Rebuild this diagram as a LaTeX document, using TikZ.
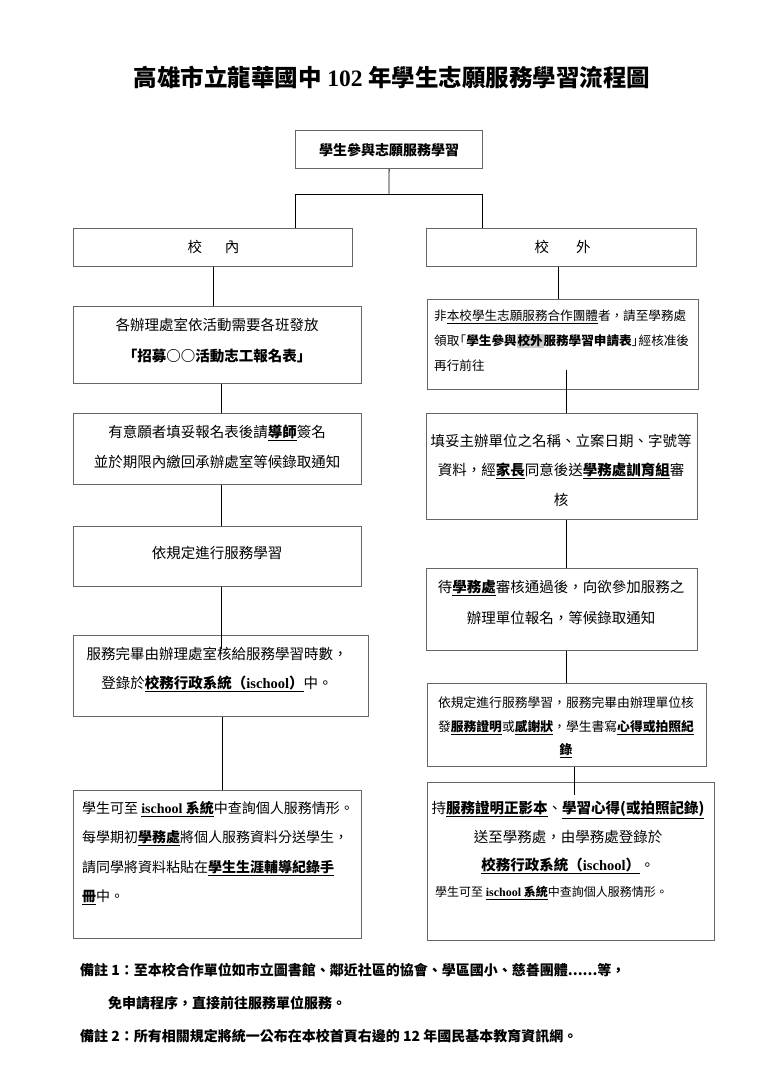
\documentclass[tikz,border=0pt]{standalone}
\usepackage{fontspec}
\setmainfont{Noto Sans CJK TC}
\newfontfamily\lat{Liberation Serif}
\newcommand\uln[1]{\underline{#1}}
\newcommand\ubf[1]{\underline{\textbf{#1}}}
\newcommand\hlgray[1]{{\setlength{\fboxsep}{0.8pt}\colorbox{black!20}{#1}}}
\begin{document}
\begin{tikzpicture}[x=1pt,y=-1pt,
  box/.style={draw=black!60, line width=1.1pt, inner sep=0pt, anchor=north west, fill=white},
  conn/.style={draw=black, line width=0.9pt},
  tx/.style={inner sep=0pt, align=center},
  txl/.style={inner sep=0pt, align=left},
  f14/.style={font=\fontsize{14.5}{30}\selectfont},
  f13/.style={font=\fontsize{12.6}{25}\selectfont},
  foot/.style={inner sep=0pt, anchor=west, font=\fontsize{14}{20}\selectfont\bfseries}]
\useasboundingbox (0,0) rectangle (768,1087);
\fill[white] (0,0) rectangle (768,1087);

% title
\node[tx, font=\fontsize{23.5}{28}\selectfont\bfseries] (title) at (392,77) {高雄市立龍華國中 {\lat 102} 年學生志願服務學習流程圖};

% connector coordinates
\coordinate (J) at (389,194);
\coordinate (JL) at (295,194);
\coordinate (JR) at (482,194);
\coordinate (cl) at (221,0);
\coordinate (cl2) at (222,0);
\coordinate (cr) at (566,0);
\coordinate (cr1) at (558,0);
\coordinate (r2in) at (566,370);
\coordinate (l5in) at (221,649);
\coordinate (r6in) at (574,795);

% boxes
\node[box, minimum width=187pt, minimum height=38pt] (T) at (295,130) {};
\node[box, minimum width=279pt, minimum height=38pt] (L1) at (73,228) {};
\node[box, minimum width=270pt, minimum height=38pt] (R1) at (426,228) {};
\node[box, minimum width=288pt, minimum height=77pt] (L2) at (73,306) {};
\node[box, minimum width=271pt, minimum height=90pt] (R2) at (427,299) {};
\node[box, minimum width=288pt, minimum height=71pt] (L3) at (73,413) {};
\node[box, minimum width=271pt, minimum height=106pt] (R3) at (426,413) {};
\node[box, minimum width=288pt, minimum height=60pt] (L4) at (73,526) {};
\node[box, minimum width=271pt, minimum height=82pt] (R4) at (426,568) {};
\node[box, minimum width=295pt, minimum height=81pt] (L5) at (73,635) {};
\node[box, minimum width=279pt, minimum height=83pt] (R5) at (427,683) {};
\node[box, minimum width=288pt, minimum height=148pt] (L6) at (73,790) {};
\node[box, minimum width=287pt, minimum height=158pt] (R6) at (427,782) {};

% connectors
\draw[conn] (T.south) -- (J);
\draw[conn] (L1.north -| JL) |- (JR) -- (R1.north -| JR);
\draw[conn] (L1.south) -- (L2.north -| L1.south);
\draw[conn] (L2.south -| cl) -- (L3.north -| cl);
\draw[conn] (L3.south -| cl) -- (L4.north -| cl);
\draw[conn] (L4.south -| cl) -- (l5in);
\draw[conn] (L5.south -| cl2) -- (L6.north -| cl2);
\draw[conn] (R1.south -| cr1) -- (R2.north -| cr1);
\draw[conn] (r2in) -- (R3.north -| cr);
\draw[conn] (R3.south -| cr) -- (R4.north -| cr);
\draw[conn] (R4.south -| cr) -- (R5.north -| cr);
\draw[conn] (R5.south -| r6in) -- (r6in);

% texts
\node[tx, font=\fontsize{14}{20}\selectfont\bfseries] (Tt) at (389,150) {學生參與志願服務學習};
\node[tx, f14] (L1t) at (213.5,247) {校\hspace{23pt}內};
\node[tx, f14] (R1t) at (562.5,247) {校\hspace{27pt}外};
\node[tx, font=\fontsize{14.5}{31}\selectfont] (L2t) at (217,340.5) {各辦理處室依活動需要各班發放\\\textbf{「招募○○活動志工報名表」}};
\node[txl, f13] (R2t) at (434,341) [anchor=west] {非\uln{本校學生志願服務合作團體}者，請至學務處\\領取\hspace{-0.45em}「\textbf{學生參與}\hlgray{\textbf{校外}}\textbf{服務學習申請表}」\hspace{-0.45em}經核准後\\再行前往};
\node[tx, f14] (L3t) at (217,447) {有意願者填妥報名表後請\ubf{導師}簽名\\並於期限內繳回承辦處室等候錄取通知};
\node[tx, font=\fontsize{14.5}{29.5}\selectfont] (R3t) at (561,470) {填妥主辦單位之名稱、立案日期、字號等\\資料，經\ubf{家長}同意後送\ubf{學務處訓育組}審\\核};
\node[tx, f14] (L4t) at (217,553) {依規定進行服務學習};
\node[tx, font=\fontsize{14.5}{31}\selectfont] (R4t) at (561,602.5) {待\ubf{學務處}審核通過後，向欲參加服務之\\辦理單位報名，等候錄取通知};
\node[tx, font=\fontsize{14.5}{29}\selectfont] (L5t) at (217,669.5) {服務完畢由辦理處室核給服務學習時數，\\登錄於\ubf{校務行政系統（{\lat ischool}）}中。};
\node[tx, font=\fontsize{12.8}{23.5}\selectfont] (R5t) at (566,727.5) {依規定進行服務學習，服務完畢由辦理單位核\\發\ubf{服務證明}或\ubf{感謝狀}，學生書寫\ubf{心得或拍照紀}\\\ubf{錄}};
\node[txl, font=\fontsize{14}{29.3}\selectfont] (L6t) at (82,853) [anchor=west] {學生可至 \ubf{{\lat ischool} 系統}中查詢個人服務情形。\\每學期初\ubf{學務處}將個人服務資料分送學生，\\請同學將資料粘貼在\ubf{學生生涯輔導紀錄手}\\\ubf{冊}中。};
\node[tx, font=\fontsize{14.5}{28.5}\selectfont] (R6t) at (568,837.5) {持\ubf{服務證明正影本}、\ubf{學習心得(或拍照記錄)}\\送至學務處，由學務處登錄於\\\ubf{校務行政系統（{\lat ischool}）}。};
\node[txl, font=\fontsize{12}{20}\selectfont] (R6t2) at (435,893) [anchor=west] {學生可至 \ubf{{\lat ischool} 系統}中查詢個人服務情形。};

% footnotes
\node[foot] (F1) at (80,970) {備註 1：至本校合作單位如市立圖書館、鄰近社區的協會、學區國小、慈善團體......等，};
\node[foot] (F2) at (108,1003) {免申請程序，直接前往服務單位服務。};
\node[foot] (F3) at (80,1036) {備註 2：所有相關規定將統一公布在本校首頁右邊的 12 年國民基本教育資訊網。};
\end{tikzpicture}
\end{document}
